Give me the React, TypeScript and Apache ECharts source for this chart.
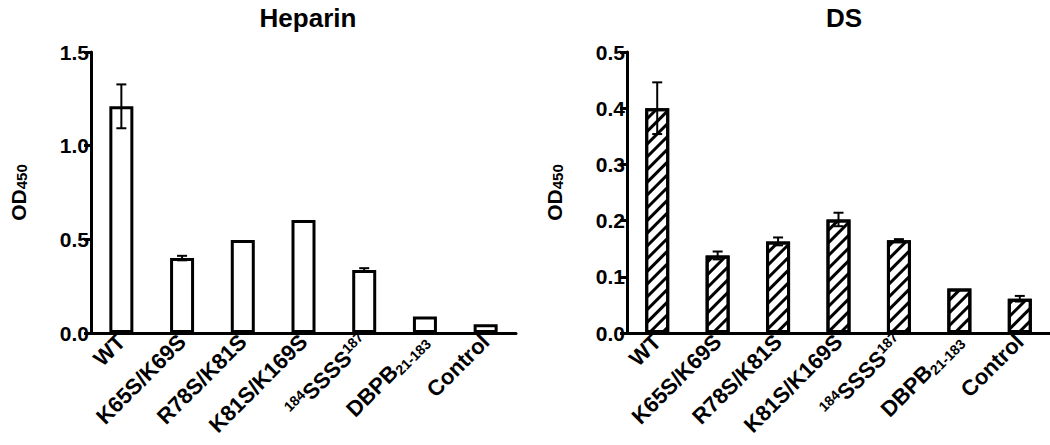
import React, { useEffect, useRef } from "react";
import * as echarts from "echarts";

const categories = ["WT", "K65S/K69S", "R78S/K81S", "K81S/K169S", "184SSSS187", "DBPB21-183", "Control"];
const heparinValues = [1.21, 0.4, 0.497, 0.603, 0.336, 0.088, 0.047];
const heparinErrors = [0.117, 0.012, 0, 0, 0.01, 0, 0];
const dsValues = [0.4, 0.138, 0.163, 0.202, 0.165, 0.079, 0.061];
const dsErrors = [0.046, 0.007, 0.007, 0.012, 0.002, 0, 0.005];
const heparinTicks = { min: 0, max: 1.5, interval: 0.5 };
const dsTicks = { min: 0, max: 0.5, interval: 0.1 };

const FONT = '"Liberation Sans", Arial, sans-serif';

function labelFormatter(v: string) {
  if (v === "184SSSS187") return "{sup|184}SSSS{sup|187}";
  if (v === "DBPB21-183") return "DBPB{sub|21-183}";
  return v;
}

export default function App() {
  const ref = useRef<HTMLDivElement>(null);
  useEffect(() => {
    if (!ref.current) return;
    const chart = echarts.init(ref.current, null, { renderer: "svg" });

    const xAxisBase = (gridIndex: number) => ({
      type: "category",
      gridIndex,
      data: categories,
      axisLine: { lineStyle: { color: "#000", width: 3 } },
      axisTick: { alignWithLabel: true, length: 8, lineStyle: { color: "#000", width: 3 } },
      axisLabel: {
        rotate: 45,
        interval: 0,
        margin: 5,
        color: "#000",
        fontSize: 22,
        fontWeight: "bold",
        fontFamily: FONT,
        formatter: labelFormatter,
        rich: {
          sup: { fontSize: 14, fontWeight: "bold", fontFamily: FONT, color: "#000", verticalAlign: "top", lineHeight: 24 },
          sub: { fontSize: 14, fontWeight: "bold", fontFamily: FONT, color: "#000", verticalAlign: "bottom", lineHeight: 24 },
        },
      },
    });

    const yAxisBase = (gridIndex: number, t: any, fmt: (v: number) => string) => ({
      type: "value",
      gridIndex,
      min: t.min,
      max: t.max,
      interval: t.interval,
      name: "{b|OD}{s|450}",
      nameLocation: "middle",
      nameRotate: 90,
      nameGap: 62,
      nameTextStyle: {
        rich: {
          b: { fontSize: 21, fontWeight: "bold", fontFamily: FONT, color: "#000", verticalAlign: "bottom", lineHeight: 22 },
          s: { fontSize: 15, fontWeight: "bold", fontFamily: FONT, color: "#000", verticalAlign: "bottom", lineHeight: 28 },
        },
      },
      splitLine: { show: false },
      axisLine: { show: true, lineStyle: { color: "#000", width: 3 } },
      axisTick: { show: true, length: 7, lineStyle: { color: "#000", width: 3 } },
      axisLabel: {
        color: "#000",
        fontSize: 21,
        fontWeight: "bold",
        fontFamily: FONT,
        margin: 2,
        formatter: fmt,
      },
    });

    const errRender = (params: any, api: any) => {
      const i = api.value(0);
      const v = api.value(1);
      const e = api.value(2);
      if (!e) return null;
      const top = api.coord([i, v + e]);
      const bot = api.coord([i, v - e]);
      const hw = 5;
      const st = { stroke: "#000", lineWidth: 2 };
      return {
        type: "group",
        children: [
          { type: "line", shape: { x1: top[0], y1: top[1], x2: bot[0], y2: bot[1] }, style: st },
          { type: "line", shape: { x1: top[0] - hw, y1: top[1], x2: top[0] + hw, y2: top[1] }, style: st },
          { type: "line", shape: { x1: bot[0] - hw, y1: bot[1], x2: bot[0] + hw, y2: bot[1] }, style: st },
        ],
      };
    };

    chart.setOption({
      animation: false,
      backgroundColor: "#fff",
      title: [
        { text: "Heparin", left: 303, top: 0, textAlign: "center", textStyle: { fontSize: 26, fontWeight: "bold", fontFamily: FONT, color: "#000" } },
        { text: "DS", left: 839, top: 0, textAlign: "center", textStyle: { fontSize: 26, fontWeight: "bold", fontFamily: FONT, color: "#000" } },
      ],
      grid: [
        { left: 91, top: 52, width: 425, height: 281 },
        { left: 627, top: 52, width: 425, height: 281 },
      ],
      xAxis: [xAxisBase(0), xAxisBase(1)],
      yAxis: [
        yAxisBase(0, heparinTicks, (v: number) => v.toFixed(1)),
        yAxisBase(1, dsTicks, (v: number) => v.toFixed(1)),
      ],
      series: [
        {
          type: "bar",
          xAxisIndex: 0,
          yAxisIndex: 0,
          data: heparinValues,
          barWidth: 24,
          itemStyle: { color: "#fff", borderColor: "#000", borderWidth: 3 },
        },
        {
          type: "custom",
          xAxisIndex: 0,
          yAxisIndex: 0,
          z: 5,
          renderItem: errRender,
          data: heparinValues.map((v, i) => [i, v, heparinErrors[i]]),
        },
        {
          type: "bar",
          xAxisIndex: 1,
          yAxisIndex: 1,
          data: dsValues,
          barWidth: 24,
          itemStyle: {
            color: "#fff",
            borderColor: "#000",
            borderWidth: 3,
            decal: {
              symbol: "rect",
              color: "#000",
              backgroundColor: "#fff",
              dashArrayX: [1, 0],
              dashArrayY: [3, 6],
              rotation: -Math.PI / 4,
              symbolSize: 1,
            },
          },
        },
        {
          type: "custom",
          xAxisIndex: 1,
          yAxisIndex: 1,
          z: 5,
          renderItem: errRender,
          data: dsValues.map((v, i) => [i, v, dsErrors[i]]),
        },
      ],
    });
    return () => chart.dispose();
  }, []);
  return <div ref={ref} style={{ position: "fixed", left: 0, top: 0, width: 1050, height: 445 }} />;
}
